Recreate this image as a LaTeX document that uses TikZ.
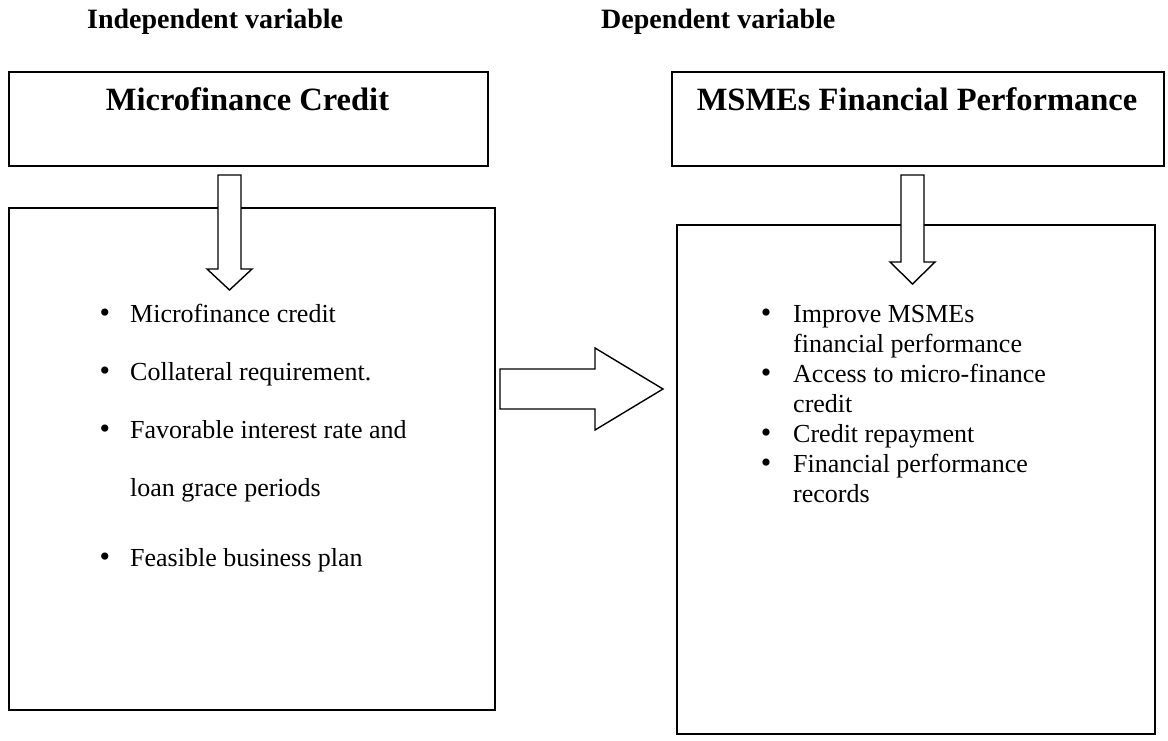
\documentclass[tikz,border=0pt]{standalone}
\usepackage{fontspec}
\setmainfont{Liberation Serif}
\begin{document}
\begin{tikzpicture}[x=1pt,y=-1pt,
  box/.style={draw=black,line width=2.2pt,anchor=north west,inner sep=0pt},
  blockarrow/.style={draw=black,line width=1.4pt,fill=white,line join=miter},
  head/.style={font=\fontsize{28}{32}\selectfont\bfseries,anchor=base west,inner sep=0pt},
  boxtitle/.style={font=\fontsize{32.5}{36}\selectfont\bfseries,anchor=base,inner sep=0pt},
  item/.style={font=\fontsize{26}{30}\selectfont,anchor=base west,inner sep=0pt},
  dot/.style={font=\fontsize{30}{30}\selectfont,anchor=base,inner sep=0pt}]
\useasboundingbox[fill=white] (0,0) rectangle (1168,740);
% headings
\node[head] (hi) at (87,28) {Independent variable};
\node[head] (hd) at (601,28) {Dependent variable};
% top boxes
\node[box,minimum width=479pt,minimum height=94pt] (b1) at (8,71) {};
\node[box,minimum width=492pt,minimum height=94pt] (b2) at (671,71) {};
\node[boxtitle] (t1) at (247.5,110) {Microfinance Credit};
\node[boxtitle] (t2) at (917,110) {MSMEs Financial Performance};
% lower boxes
\node[box,minimum width=486pt,minimum height=502pt] (l1) at (8,207) {};
\node[box,minimum width=478pt,minimum height=509pt] (l2) at (676,224) {};
% down arrow 1
\draw[blockarrow] (218,175) -- (241,175) -- (241,269) -- (252,269) -- (229.5,290)
  -- (207,269) -- (218,269) -- cycle;
% down arrow 2
\draw[blockarrow] (901,175) -- (924,175) -- (924,262) -- (935,262) -- (912.5,284)
  -- (890,262) -- (901,262) -- cycle;
% right arrow
\draw[blockarrow] (500,369) -- (595,369) -- (595,348) -- (663,389) -- (595,430)
  -- (595,409) -- (500,409) -- cycle;
% left items
\node[dot] (d1) at (105,322) {•};
\node[item] (i1) at (130,322) {Microfinance credit};
\node[dot] (d2) at (105,380) {•};
\node[item] (i2) at (130,380) {Collateral requirement.};
\node[dot] (d3) at (105,438) {•};
\node[item] (i3) at (130,438) {Favorable interest rate and};
\node[item] (i3b) at (130,496) {loan grace periods};
\node[dot] (d4) at (105,566) {•};
\node[item] (i4) at (130,566) {Feasible business plan};
% right items
\node[dot] (e1) at (766,322) {•};
\node[item] (j1) at (793,322) {Improve MSMEs};
\node[item] (j1b) at (793,352) {financial performance};
\node[dot] (e2) at (766,382) {•};
\node[item] (j2) at (793,382) {Access to micro-finance};
\node[item] (j2b) at (793,412) {credit};
\node[dot] (e3) at (766,442) {•};
\node[item] (j3) at (793,442) {Credit repayment};
\node[dot] (e4) at (766,472) {•};
\node[item] (j4) at (793,472) {Financial performance};
\node[item] (j4b) at (793,502) {records};
\end{tikzpicture}
\end{document}
